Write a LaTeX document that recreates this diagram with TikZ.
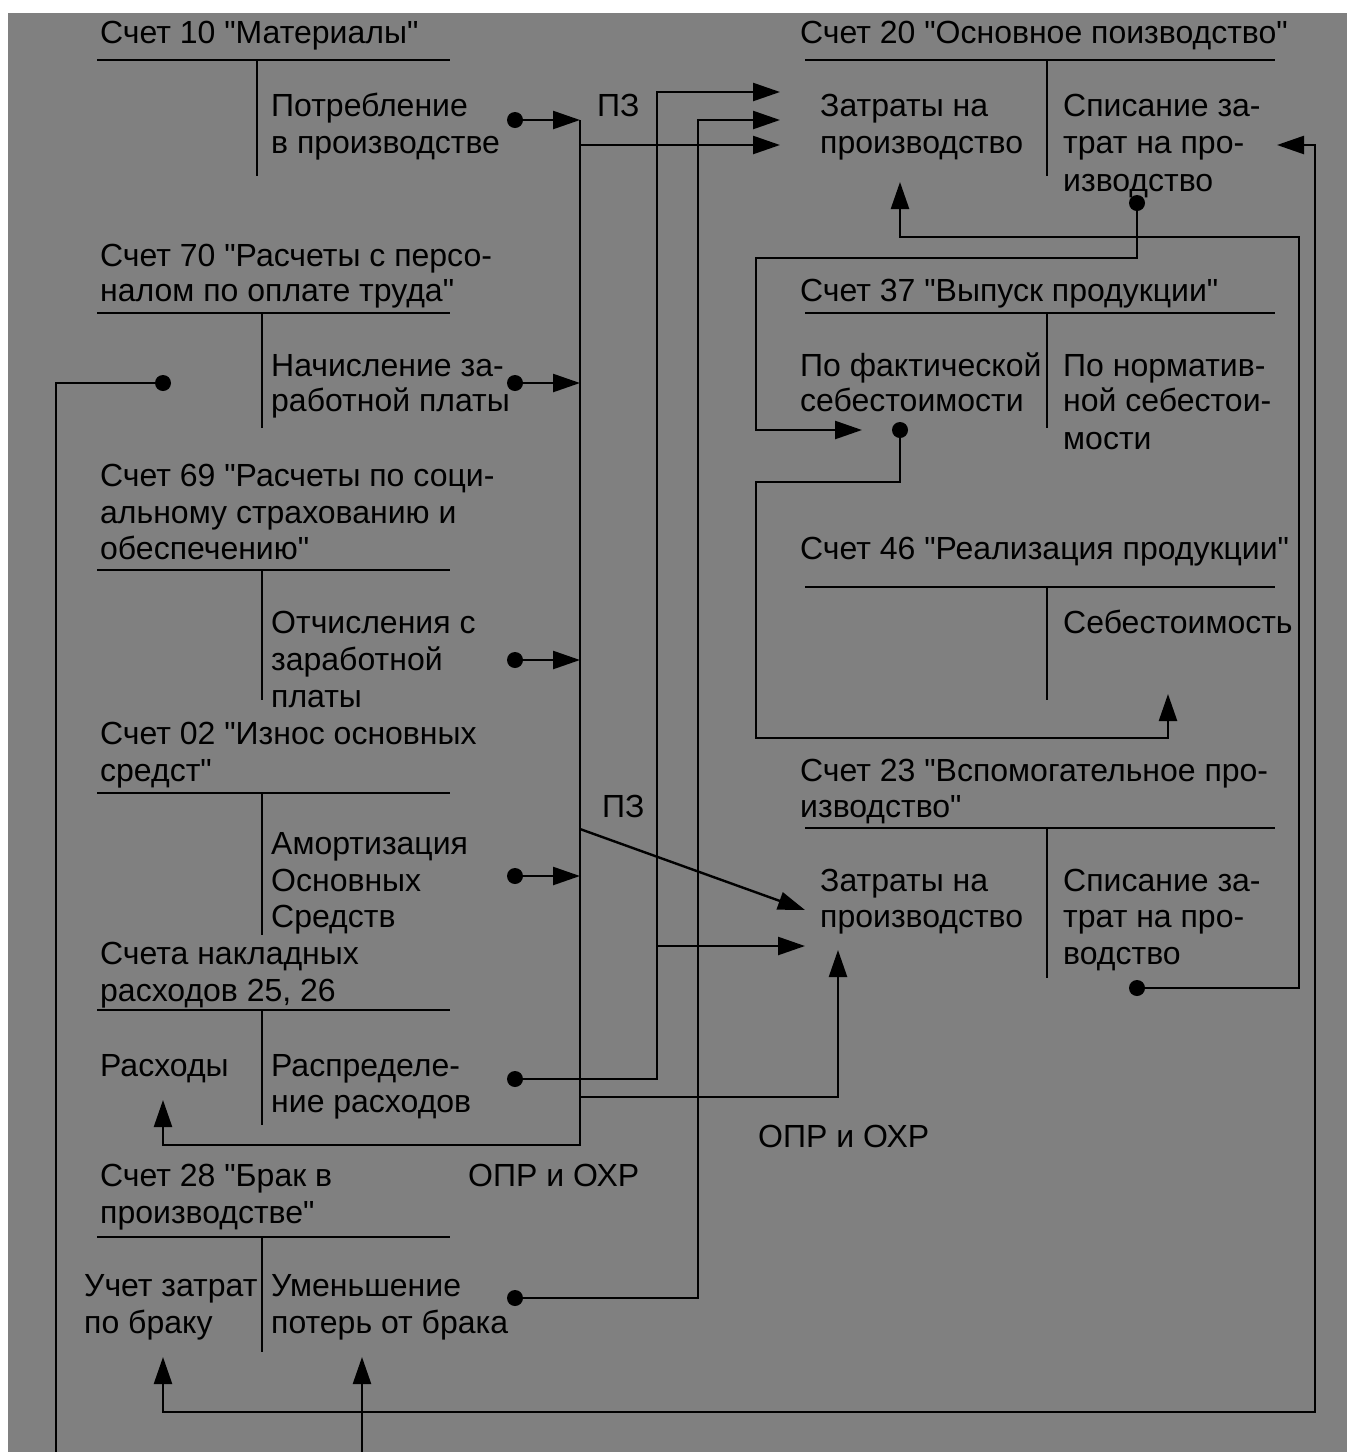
\documentclass[tikz,border=0pt]{standalone}
\usepackage{fontspec}
\setmainfont{Liberation Sans}
\font\lsfont="Liberation Sans" at 32pt
\usetikzlibrary{arrows.meta}
\definecolor{bg}{RGB}{128,128,128}
\tikzset{
  ln/.style={line width=2.4pt, black},
  arr/.style={ln, -{Triangle[length=27pt,width=18pt]}},
  twoarr/.style={ln, {Triangle[length=27pt,width=18pt]}-{Triangle[length=27pt,width=18pt]}},
  txt/.style={anchor=base west, inner sep=0pt, font=\lsfont},
  tline/.style={line width=2.4pt, black},
}
\begin{document}
\begin{tikzpicture}[x=1pt,y=-1pt]
\useasboundingbox (0,0) rectangle (1347,1452);
\fill[white] (0,0) rectangle (1347,1452);
\fill[bg] (8,13) rectangle (1347,1452);

% ---------- left column accounts ----------
% Account 10
\node[txt] (a10) at (100,43) {Счет 10 "Материалы"};
\draw[tline] (97,60) -- (450,60);
\draw[tline] (257,60) -- (257,176);
\node[txt] (a10r1) at (271,116) {Потребление};
\node[txt] (a10r2) at (271,153) {в производстве};

% Account 70
\node[txt] (a70a) at (100,266) {Счет 70 "Расчеты с персо-};
\node[txt] (a70b) at (100,301) {налом по оплате труда"};
\draw[tline] (97,313) -- (450,313);
\draw[tline] (262,313) -- (262,428);
\node[txt] (a70r1) at (271,376) {Начисление за-};
\node[txt] (a70r2) at (271,411) {работной платы};

% Account 69
\node[txt] (a69a) at (100,486) {Счет 69 "Расчеты по соци-};
\node[txt] (a69b) at (100,523) {альному страхованию и};
\node[txt] (a69c) at (100,559) {обеспечению"};
\draw[tline] (97,570) -- (450,570);
\draw[tline] (262,570) -- (262,700);
\node[txt] (a69r1) at (271,633) {Отчисления с};
\node[txt] (a69r2) at (271,670) {заработной};
\node[txt] (a69r3) at (271,707) {платы};

% Account 02
\node[txt] (a02a) at (100,744) {Счет 02 "Износ основных};
\node[txt] (a02b) at (100,781) {средст"};
\draw[tline] (97,793) -- (450,793);
\draw[tline] (262,793) -- (262,935);
\node[txt] (a02r1) at (271,854) {Амортизация};
\node[txt] (a02r2) at (271,891) {Основных};
\node[txt] (a02r3) at (271,927) {Средств};

% Accounts 25,26
\node[txt] (a25a) at (100,964) {Счета накладных};
\node[txt] (a25b) at (100,1001) {расходов 25, 26};
\draw[tline] (97,1010) -- (450,1010);
\draw[tline] (262,1010) -- (262,1125);
\node[txt] (a25l) at (100,1076) {Расходы};
\node[txt] (a25r1) at (271,1076) {Распределе-};
\node[txt] (a25r2) at (271,1112) {ние расходов};

% Account 28
\node[txt] (a28a) at (100,1186) {Счет 28 "Брак в};
\node[txt] (a28b) at (100,1223) {производстве"};
\draw[tline] (97,1237) -- (450,1237);
\draw[tline] (262,1237) -- (262,1352);
\node[txt] (a28l1) at (84,1296) {Учет затрат};
\node[txt] (a28l2) at (84,1333) {по браку};
\node[txt] (a28r1) at (271,1296) {Уменьшение};
\node[txt] (a28r2) at (271,1333) {потерь от брака};

% ---------- right column accounts ----------
% Account 20
\node[txt] (a20) at (800,43) {Счет 20 "Основное поизводство"};
\draw[tline] (805,60) -- (1275,60);
\draw[tline] (1047,60) -- (1047,176);
\node[txt] (a20l1) at (820,116) {Затраты на};
\node[txt] (a20l2) at (820,153) {производство};
\node[txt] (a20r1) at (1063,116) {Списание за-};
\node[txt] (a20r2) at (1063,153) {трат на про-};
\node[txt] (a20r3) at (1063,191) {изводство};

% Account 37
\node[txt] (a37) at (800,301) {Счет 37 "Выпуск продукции"};
\draw[tline] (805,313) -- (1275,313);
\draw[tline] (1047,313) -- (1047,428);
\node[txt] (a37l1) at (800,376) {По фактической};
\node[txt] (a37l2) at (800,411) {себестоимости};
\node[txt] (a37r1) at (1063,376) {По норматив-};
\node[txt] (a37r2) at (1063,411) {ной себестои-};
\node[txt] (a37r3) at (1063,449) {мости};

% Account 46
\node[txt] (a46) at (800,559) {Счет 46 "Реализация продукции"};
\draw[tline] (805,587) -- (1275,587);
\draw[tline] (1047,587) -- (1047,700);
\node[txt] (a46r1) at (1063,633) {Себестоимость};

% Account 23
\node[txt] (a23a) at (800,781) {Счет 23 "Вспомогательное про-};
\node[txt] (a23b) at (800,817) {изводство"};
\draw[tline] (805,828) -- (1275,828);
\draw[tline] (1047,828) -- (1047,978);
\node[txt] (a23l1) at (820,891) {Затраты на};
\node[txt] (a23l2) at (820,927) {производство};
\node[txt] (a23r1) at (1063,891) {Списание за-};
\node[txt] (a23r2) at (1063,927) {трат на про-};
\node[txt] (a23r3) at (1063,964) {водство};

% ---------- labels ----------
\node[txt] (pz1) at (597,116) {ПЗ};
\node[txt] (pz2) at (602,817) {ПЗ};
\node[txt] (opr1) at (468,1186) {ОПР и ОХР};
\node[txt] (opr2) at (758,1147) {ОПР и ОХР};

% ---------- coordinates ----------
\coordinate (d10) at (515,120);
\coordinate (d70) at (515,383);
\coordinate (d69) at (515,660);
\coordinate (d02) at (515,876);
\coordinate (d25) at (515,1079);
\coordinate (d28) at (515,1298);
\coordinate (d70L) at (163,383);
\coordinate (d20) at (1137,203);
\coordinate (d37) at (900,430);
\coordinate (d23) at (1137,988);

\coordinate (t10) at (580,120);
\coordinate (t70) at (580,383);
\coordinate (t69) at (580,660);
\coordinate (t02) at (580,876);
\coordinate (tbot) at (580,1145);
\coordinate (rasx) at (163,1100);

\coordinate (in20a) at (780,92);
\coordinate (in20b) at (780,120);
\coordinate (in20c) at (780,145);
\coordinate (in23diag) at (805,910);
\coordinate (in23b) at (805,946);
\coordinate (in23up) at (838,950);
\coordinate (in20up) at (900,182);
\coordinate (in37) at (862,430);
\coordinate (in46) at (1168,694);
\coordinate (in20r) at (1277,145);
\coordinate (in28l) at (163,1357);
\coordinate (in28r) at (362,1357);
\coordinate (bot362) at (362,1452);
\coordinate (bot56) at (56,1452);

% ---------- connectors ----------
\draw[arr] (d10) -- (t10);
\draw[arr] (d70) -- (t70);
\draw[arr] (d69) -- (t69);
\draw[arr] (d02) -- (t02);
\draw[arr] (t10) -- (tbot) -- (163,1145) -- (rasx);
\draw[arr] (580,145) -- (in20c);
\draw[arr] (580,829) -- (in23diag);
\draw[arr] (580,1097) -- (838,1097) -- (in23up);
\draw[arr] (d25) -- (657,1079) -- (657,92) -- (in20a);
\draw[arr] (657,946) -- (in23b);
\draw[arr] (d28) -- (698,1298) -- (698,120) -- (in20b);
\draw[arr] (d20) -- (1137,258) -- (756,258) -- (756,430) -- (in37);
\draw[arr] (d23) -- (1299,988) -- (1299,237) -- (900,237) -- (in20up);
\draw[arr] (d37) -- (900,482) -- (756,482) -- (756,738) -- (1168,738) -- (in46);
\draw[twoarr] (in28l) -- (163,1412) -- (1315,1412) -- (1315,145) -- (in20r);
\draw[arr] (bot362) -- (in28r);
\draw[ln] (d70L) -- (56,383) -- (bot56);

% dots
\foreach \p in {d10,d70,d69,d02,d25,d28,d70L,d20,d37,d23}
  \fill[black] (\p) circle (8pt);
\end{tikzpicture}
\end{document}
